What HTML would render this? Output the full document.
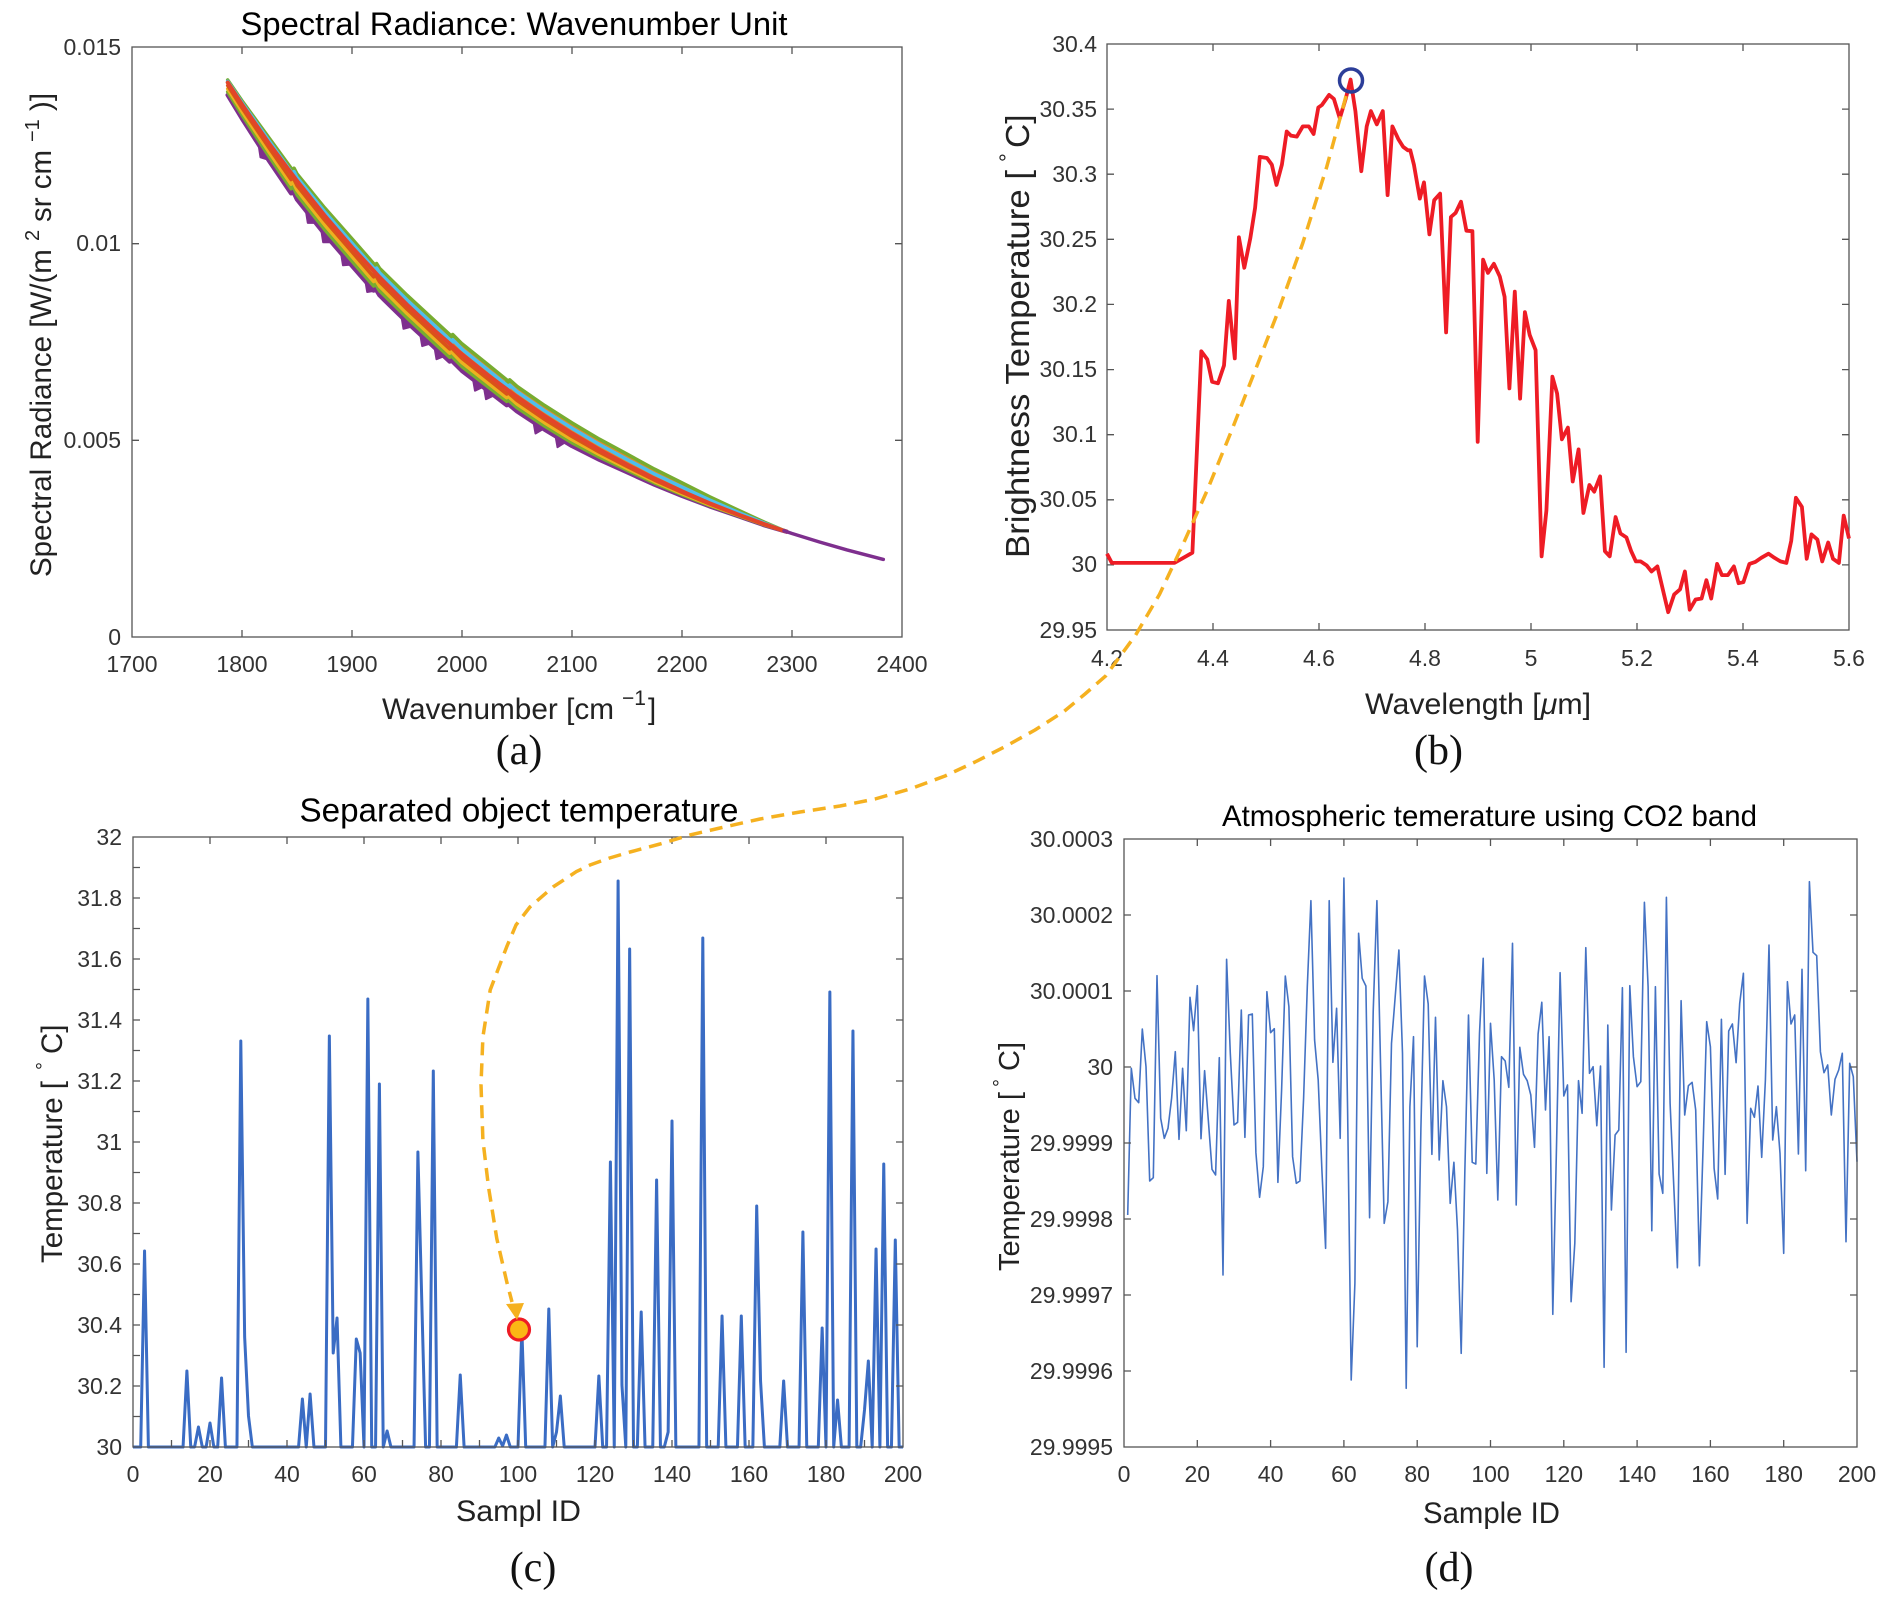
<!DOCTYPE html>
<html><head><meta charset="utf-8"><style>
html,body{margin:0;padding:0;background:#fff;}
svg{display:block;}
text{font-family:"Liberation Sans",Arial,sans-serif;}
.tk{font-size:23px;fill:#333;}
.lb{fill:#222;}
.sr{font-family:"Liberation Serif","Times New Roman",serif;font-size:42px;fill:#111;}
.ax{fill:none;stroke:#555;stroke-width:1.3;}
.tc{stroke:#555;stroke-width:1.3;}
</style></head><body>
<svg width="1886" height="1605" viewBox="0 0 1886 1605" xmlns="http://www.w3.org/2000/svg">
<rect width="1886" height="1605" fill="#fff"/>

<!-- ================= (a) ================= -->
<text x="514" y="35" font-size="32.5" text-anchor="middle" textLength="547" lengthAdjust="spacingAndGlyphs" fill="#000">Spectral Radiance: Wavenumber Unit</text>
<g>
<polygon fill="#E08A2E" points="227.7,80 242,100.8 269.5,138.5 291.1,168.2 292.6,175 294.1,168.2 297,173.9 324.5,207.7 352,238.8 373.6,263.5 375.1,272.4 376.6,263.5 379.5,268.2 407,295.2 434.5,320.5 449.7,334.5 451.2,345 452.7,334.5 462,343.8 489.5,365.9 506.7,379.8 508.2,390.3 509.7,379.8 517,386.3 544.5,405.4 572,422.9 599.5,439.2 627,454.1 654.5,469.1 682,482.8 709.5,496.7 737,509.6 764.5,522.2 786.5,531.6 764.5,525.2 737,515.6 709.5,506.2 682,495.8 654.5,484.6 627,472.1 599.5,459.7 572,445.9 544.5,429.4 517,411.3 509.7,405.1 508.2,390.3 506.7,405.1 489.5,391.9 462,370.8 452.7,361.5 451.2,345 449.7,361.5 434.5,347.5 407,322.2 379.5,295.2 376.6,290.5 375.1,272.4 373.6,290.5 352,265.8 324.5,233.9 297,199.4 294.1,193.3 292.6,175 291.1,193.3 269.5,161.4 242,118.5 227.7,95"/>
<g fill="none" stroke-linejoin="round" stroke-linecap="round">
<polyline stroke="#7E2F8E" stroke-width="4.5" points="227.7,95 242,118.5 269.5,161.4 291.1,193.3 292.6,175 294.1,193.3 297,199.4 324.5,233.9 352,265.8 373.6,290.5 375.1,272.4 376.6,290.5 379.5,295.2 407,322.2 434.5,347.5 449.7,361.5 451.2,345 452.7,361.5 462,370.8 489.5,391.9 506.7,405.1 508.2,390.3 509.7,405.1 517,411.3 544.5,429.4 572,445.9 599.5,459.7 627,472.1 654.5,484.6 682,495.8 709.5,506.2 737,515.6 764.5,525.2 786.5,531.6"/>
<path fill="#7E2F8E" stroke="#7E2F8E" stroke-width="2" d="M258.5,144.2 L260.5,157.3 L268.5,159.8 Z M305.8,210.4 L307.8,222.9 L315.8,222.9 Z M321.2,229.8 L323.2,242.3 L331.2,242.3 Z M341,253 L343,265.3 L351,264.6 Z M365.2,279.9 L367.2,292 L375.2,290.6 Z M401.5,316.8 L403.5,328.8 L411.5,326.6 Z M420.2,334.3 L422.2,346.1 L430.2,343.5 Z M434.5,347.5 L436.5,359.2 L444.5,356 Z M473,379.2 L475,390.7 L483,386.9 Z M484,387.7 L486,399.2 L494,395.4 Z M533.5,422.2 L535.5,433.5 L543.5,428.8 Z M555.5,436 L557.5,447.2 L565.5,442 Z"/>
<polyline stroke="#77AC30" stroke-width="3.5" points="227.7,91.9 242,115 269.5,157.1 291.1,188.8 292.6,175 294.1,188.8 297,194.8 324.5,229.3 352,261.2 373.6,286 375.1,272.4 376.6,286 379.5,290.7 407,317.8 434.5,343.3 449.7,357.3 451.2,345 452.7,357.3 462,366.7 489.5,388 506.7,401.4 508.2,390.3 509.7,401.4 517,407.7 544.5,426 572,442.8 599.5,457.2 627,470.2 654.5,483.1 682,494.7 709.5,505.5 737,515.2 764.5,524.9 786.5,531.6"/>
<polyline stroke="#EDB120" stroke-width="3.5" points="227.7,88.8 242,111.5 269.5,152.8 291.1,184.2 292.6,175 294.1,184.2 297,190.2 324.5,224.7 352,256.6 373.6,281.5 375.1,272.4 376.6,281.5 379.5,286.2 407,313.5 434.5,339 449.7,353.2 451.2,345 452.7,353.2 462,362.6 489.5,384.2 506.7,397.7 508.2,390.3 509.7,397.7 517,404.1 544.5,422.7 572,439.7 599.5,454.7 627,468.4 654.5,481.6 682,493.6 709.5,504.7 737,514.9 764.5,524.7 786.5,531.6"/>
<polyline stroke="#D95319" stroke-width="3.5" points="227.7,85.6 242,107.9 269.5,148.5 291.1,179.6 292.6,175 294.1,179.6 297,185.5 324.5,220 352,251.9 373.6,276.9 375.1,272.4 376.6,276.9 379.5,281.7 407,309.1 434.5,334.8 449.7,349 451.2,345 452.7,349 462,358.4 489.5,380.3 506.7,394 508.2,390.3 509.7,394 517,400.4 544.5,419.3 572,436.5 599.5,452.2 627,466.5 654.5,480.1 682,492.4 709.5,503.9 737,514.5 764.5,524.5 786.5,531.6"/>
<polyline stroke="#77AC30" stroke-width="3.5" points="227.7,80 242,100.8 269.5,138.5 291.1,168.2 292.6,175 294.1,168.2 297,173.9 324.5,207.7 352,238.8 373.6,263.5 375.1,272.4 376.6,263.5 379.5,268.2 407,295.2 434.5,320.5 449.7,334.5 451.2,345 452.7,334.5 462,343.8 489.5,365.9 506.7,379.8 508.2,390.3 509.7,379.8 517,386.3 544.5,405.4 572,422.9 599.5,439.2 627,454.1 654.5,469.1 682,482.8 709.5,496.7 737,509.6 764.5,522.2 786.5,531.6"/>
<polyline stroke="#4DBEEE" stroke-width="3.5" points="227.7,81.3 242,102.6 269.5,141.4 291.1,171.6 292.6,175 294.1,171.6 297,177.4 324.5,211.6 352,243.1 373.6,268 375.1,272.4 376.6,268 379.5,272.7 407,300 434.5,325.5 449.7,339.7 451.2,345 452.7,339.7 462,349.1 489.5,371.2 506.7,385.1 508.2,390.3 509.7,385.1 517,391.6 544.5,410.7 572,428.2 599.5,444.5 627,459.4 654.5,473.9 682,487.1 709.5,500 737,511.9 764.5,523.2 786.5,531.6"/>
<polyline stroke="#E2452A" stroke-width="4" points="227.7,82.5 242,104.4 269.5,144.2 292.6,175 297,180.9 324.5,215.4 352,247.3 375.1,272.4 379.5,277.2 407,304.7 434.5,330.5 451.2,345 462,354.3 489.5,376.4 508.2,390.3 517,396.8 544.5,415.9 572,433.4 599.5,449.7 627,464.6 654.5,478.6 682,491.3 709.5,503.2 737,514.1 764.5,524.2 786.5,531.6"/>
<polyline stroke="#7E2F8E" stroke-width="3.5" points="784,530.8 792,533.5 819.5,542 847,549.9 883.3,559.4"/>
</g>
</g>
<rect class="ax" x="132" y="47" width="770" height="590"/>
<g class="tc">
<path d="M242,637v-7M352,637v-7M462,637v-7M572,637v-7M682,637v-7M792,637v-7M242,47v7M352,47v7M462,47v7M572,47v7M682,47v7M792,47v7M132,440.3h7M132,243.7h7M902,440.3h-7M902,243.7h-7"/>
</g>
<g class="tk" text-anchor="middle">
<text x="132" y="672">1700</text><text x="242" y="672">1800</text><text x="352" y="672">1900</text><text x="462" y="672">2000</text><text x="572" y="672">2100</text><text x="682" y="672">2200</text><text x="792" y="672">2300</text><text x="902" y="672">2400</text>
</g>
<g class="tk" text-anchor="end">
<text x="121" y="645">0</text><text x="121" y="448">0.005</text><text x="121" y="251">0.01</text><text x="121" y="55">0.015</text>
</g>
<g class="lb" font-size="29.6">
<text x="382" y="719" textLength="232" lengthAdjust="spacingAndGlyphs">Wavenumber [cm</text>
<text x="622" y="705" font-size="21">−1</text>
<text x="648" y="719">]</text>
</g>
<g class="lb" transform="translate(51,577) rotate(-90)" font-size="29.5">
<text x="0" y="0">Spectral Radiance [W/(m</text>
<text x="336" y="-12" font-size="20">2</text>
<text x="355" y="0">sr cm</text>
<text x="435" y="-12" font-size="20">−1</text>
<text x="466" y="0">)]</text>
</g>
<text class="sr" x="519" y="764" text-anchor="middle">(a)</text>

<!-- ================= (b) ================= -->
<rect class="ax" x="1107" y="44" width="742" height="586"/>
<g class="tc">
<path d="M1213,630v-7M1319,630v-7M1425,630v-7M1531,630v-7M1637,630v-7M1743,630v-7M1213,44v7M1319,44v7M1425,44v7M1531,44v7M1637,44v7M1743,44v7M1107,109.1h7M1107,174.2h7M1107,239.3h7M1107,304.4h7M1107,369.6h7M1107,434.7h7M1107,499.8h7M1107,564.9h7M1849,109.1h-7M1849,174.2h-7M1849,239.3h-7M1849,304.4h-7M1849,369.6h-7M1849,434.7h-7M1849,499.8h-7M1849,564.9h-7"/>
</g>
<g class="tk" text-anchor="middle">
<text x="1107" y="666">4.2</text><text x="1213" y="666">4.4</text><text x="1319" y="666">4.6</text><text x="1425" y="666">4.8</text><text x="1531" y="666">5</text><text x="1637" y="666">5.2</text><text x="1743" y="666">5.4</text><text x="1849" y="666">5.6</text>
</g>
<g class="tk" text-anchor="end">
<text x="1097" y="52">30.4</text><text x="1097" y="117">30.35</text><text x="1097" y="182">30.3</text><text x="1097" y="247">30.25</text><text x="1097" y="312">30.2</text><text x="1097" y="377">30.15</text><text x="1097" y="442">30.1</text><text x="1097" y="507">30.05</text><text x="1097" y="572">30</text><text x="1097" y="638">29.95</text>
</g>
<polyline fill="none" stroke="#EE1C25" stroke-width="3.8" stroke-linejoin="round" points="1107,553.7 1111.8,562.9 1174.5,562.9 1192.4,552.7 1201.3,351.3 1207.3,359.4 1212.1,381.8 1218,383.3 1224,365.5 1228.8,300.9 1234.8,358.4 1238.9,237.3 1244.3,267.8 1250.3,238.3 1255.1,207.8 1259.8,156.9 1267,158 1271.8,164.6 1276.5,184.9 1281.9,164.6 1286.7,131.5 1290.9,135.6 1296.8,136.6 1302.8,126.4 1308.8,126.4 1313.6,134 1318.3,107.6 1321.9,105 1329.1,94.9 1333.9,98.9 1339.8,118.3 1345.8,98.4 1350.6,79.6 1355.4,111.1 1361.3,171.2 1366.7,126.4 1370.9,111.1 1376.8,124.4 1382.8,111.1 1387.6,195.1 1392.4,126.4 1398.3,139.1 1403.1,146.8 1407.9,150.3 1410.3,150.3 1413.9,164.6 1419.8,198.6 1424,182.4 1429.4,234.3 1434.2,200.2 1440.1,193.6 1446.1,332.4 1450.9,217 1455.6,212.9 1461,201.7 1466.4,230.7 1472.4,231.2 1477.7,441.8 1483.1,259.7 1487.9,272.9 1493.9,263.8 1499.8,276.5 1504.6,296.8 1509.4,388.4 1514.8,291.7 1520.1,398.6 1524.9,312.1 1529.7,335 1535.6,350.2 1541.6,556.3 1546.4,510.5 1552.4,376.7 1557.1,393.5 1561.9,439.3 1567.9,427.6 1572.7,481.5 1578.6,449.4 1583.4,513 1589.4,485 1594.2,491.7 1600.1,476.4 1604.9,551.2 1609.7,556.3 1615.6,517.1 1620.4,533.4 1626.4,537.4 1631.2,551.2 1635.9,561.4 1640.7,561.4 1646.7,565.4 1651.5,571.5 1657.4,566.4 1663.4,591.9 1668.2,612.2 1674.2,594.4 1680.1,589.3 1684.9,571.5 1689.7,609.7 1695.6,599.5 1701.6,598.5 1706.4,580.2 1711.2,598.5 1717.1,563.9 1721.9,575.1 1727.9,575.1 1733.9,566.4 1738.6,583.2 1743.4,582.2 1749.4,563.9 1755.3,561.9 1761.3,557.8 1768.5,553.7 1774.4,557.8 1780.4,561.4 1786.4,562.9 1791.2,541 1795.9,497.8 1801.9,506.9 1806.7,558.8 1811.5,534.4 1817.4,539.5 1822.2,561.4 1828.2,542.5 1833,558.8 1838.9,562.9 1843.7,515.6 1849,538.5"/>
<circle cx="1351" cy="80.5" r="11.5" fill="none" stroke="#2C3E99" stroke-width="3.5"/>
<text class="lb" x="1365" y="714" font-size="29.6" textLength="226" lengthAdjust="spacingAndGlyphs">Wavelength [<tspan font-style="italic">μ</tspan>m]</text>
<g class="lb" transform="translate(1029,558) rotate(-90)" font-size="33.5">
<text x="0" y="0" textLength="388" lengthAdjust="spacingAndGlyphs">Brightness Temperature [</text>
<text x="396" y="-14" font-size="22">°</text>
<text x="410" y="0">C]</text>
</g>
<text class="sr" x="1438.5" y="764" text-anchor="middle">(b)</text>

<!-- ================= (c) ================= -->
<text x="519" y="821.5" font-size="33" text-anchor="middle" textLength="439" lengthAdjust="spacingAndGlyphs" fill="#000">Separated object temperature</text>
<polyline fill="none" stroke="#3A6CC4" stroke-width="3" stroke-linejoin="round" points="133,1447 140.7,1447 144.55,1251 148.4,1447 183.05,1447 186.9,1371 190.75,1447 194.6,1447 198.45,1427 202.3,1447 206.15,1447 210,1423 213.85,1447 217.7,1447 221.55,1378 225.4,1447 236.95,1447 240.8,1041 244.65,1337 248.5,1416 252.35,1447 298.55,1447 302.4,1399 306.25,1447 310.1,1394 313.95,1447 325.5,1447 329.35,1036 333.2,1353 337.05,1318 340.9,1447 352.45,1447 356.3,1339 360.15,1353 364,1447 367.85,999 371.7,1447 375.55,1447 379.4,1084 383.25,1447 387.1,1431 390.95,1447 414.05,1447 417.9,1152 421.75,1300 425.6,1447 429.45,1447 433.3,1071 437.15,1447 456.4,1447 460.25,1375 464.1,1447 494.9,1447 498.75,1438 502.6,1446 506.45,1435 510.3,1447 518,1447 521.85,1329 525.7,1447 544.95,1447 548.8,1309 552.65,1447 556.5,1432 560.35,1396 564.2,1447 595,1447 598.85,1376 602.7,1447 606.55,1447 610.4,1162 614.25,1447 618.1,881 621.95,1385 625.8,1447 629.65,949 633.5,1447 637.35,1447 641.2,1312 645.05,1447 652.75,1447 656.6,1180 660.45,1447 664.3,1447 668.15,1432 672,1121 675.85,1447 698.95,1447 702.8,938 706.65,1447 718.2,1447 722.05,1316 725.9,1447 737.45,1447 741.3,1316 745.15,1447 752.85,1447 756.7,1206 760.55,1381 764.4,1447 779.8,1447 783.65,1381 787.5,1447 799.05,1447 802.9,1232 806.75,1447 818.3,1447 822.15,1328 826,1447 829.85,992 833.7,1447 837.55,1400 841.4,1447 849.1,1447 852.95,1031 856.8,1447 860.65,1447 864.5,1410 868.35,1361 872.2,1447 876.05,1249 879.9,1447 883.75,1164 887.6,1447 891.45,1447 895.3,1240 899.15,1447 903,1447"/>
<rect class="ax" x="133" y="837" width="770" height="610"/>
<g class="tc">
<path d="M171.5,1447v-7M210,1447v-7M248.5,1447v-7M287,1447v-7M325.5,1447v-7M364,1447v-7M402.5,1447v-7M441,1447v-7M479.5,1447v-7M518,1447v-7M556.5,1447v-7M595,1447v-7M633.5,1447v-7M672,1447v-7M710.5,1447v-7M749,1447v-7M787.5,1447v-7M826,1447v-7M864.5,1447v-7"/>
<path d="M210,837v7M287,837v7M364,837v7M441,837v7M518,837v7M595,837v7M672,837v7M749,837v7M826,837v7"/>
<path d="M133,1416.5h7M133,1386h7M133,1355.5h7M133,1325h7M133,1294.5h7M133,1264h7M133,1233.5h7M133,1203h7M133,1172.5h7M133,1142h7M133,1111.5h7M133,1081h7M133,1050.5h7M133,1020h7M133,989.5h7M133,959h7M133,928.5h7M133,898h7M133,867.5h7"/>
<path d="M903,1386h-7M903,1325h-7M903,1264h-7M903,1203h-7M903,1142h-7M903,1081h-7M903,1020h-7M903,959h-7M903,898h-7"/>
</g>
<g class="tk" text-anchor="middle">
<text x="133" y="1482">0</text><text x="210" y="1482">20</text><text x="287" y="1482">40</text><text x="364" y="1482">60</text><text x="441" y="1482">80</text><text x="518" y="1482">100</text><text x="595" y="1482">120</text><text x="672" y="1482">140</text><text x="749" y="1482">160</text><text x="826" y="1482">180</text><text x="903" y="1482">200</text>
</g>
<g class="tk" text-anchor="end">
<text x="122" y="1455">30</text><text x="122" y="1394">30.2</text><text x="122" y="1333">30.4</text><text x="122" y="1272">30.6</text><text x="122" y="1211">30.8</text><text x="122" y="1150">31</text><text x="122" y="1089">31.2</text><text x="122" y="1028">31.4</text><text x="122" y="967">31.6</text><text x="122" y="906">31.8</text><text x="122" y="845">32</text>
</g>
<text class="lb" x="456" y="1521" font-size="30" textLength="125" lengthAdjust="spacingAndGlyphs">Sampl ID</text>
<g class="lb" transform="translate(62,1263) rotate(-90)" font-size="29.5">
<text x="0" y="0">Temperature [</text>
<text x="193" y="-12" font-size="20">°</text>
<text x="209" y="0">C]</text>
</g>
<text class="sr" x="533" y="1581" text-anchor="middle">(c)</text>

<!-- ================= (d) ================= -->
<text x="1489.5" y="826" font-size="29.4" text-anchor="middle" textLength="535" lengthAdjust="spacingAndGlyphs" fill="#000">Atmospheric temerature using CO2 band</text>
<polyline fill="none" stroke="#4472C4" stroke-width="1.6" stroke-linejoin="round" points="1127.7,1215 1131.3,1068.3 1135,1098.3 1138.7,1102.7 1142.3,1029 1146,1066.7 1149.7,1181 1153.3,1177.7 1157,975.7 1160.7,1118.3 1164.3,1138.3 1168,1128.3 1171.6,1098.3 1175.3,1051.7 1179,1139.3 1182.6,1068.3 1186.3,1130.7 1190,997.3 1193.6,1030.7 1197.3,985.7 1201,1138.7 1204.6,1070.7 1208.3,1120 1212,1169.3 1215.6,1175 1219.3,1057.7 1223,1275 1226.6,959.3 1230.3,1053.3 1234,1125 1237.6,1122.3 1241.3,1010 1244.9,1137.3 1248.6,1015 1252.3,1014 1255.9,1152.7 1259.6,1197.3 1263.3,1166.7 1266.9,991.7 1270.6,1032.7 1274.3,1028.7 1277.9,1182.3 1281.6,1090 1285.3,976 1288.9,1006.7 1292.6,1156.7 1296.3,1183.3 1299.9,1181 1303.6,1098.3 1307.3,986.7 1310.9,900.7 1314.6,1040 1318.2,1080 1321.9,1170 1325.6,1248.3 1329.2,900.7 1332.9,1062.3 1336.6,1008.3 1340.2,1138.3 1343.9,878 1347.6,1110 1351.2,1380 1354.9,1283.3 1358.6,933.3 1362.2,978.3 1365.9,986 1369.6,1217.7 1373.2,1011.7 1376.9,900.7 1380.6,1066.7 1384.2,1223.3 1387.9,1201.7 1391.5,1043.3 1395.2,996.7 1398.9,950 1402.5,1053.3 1406.2,1388.3 1409.9,1106.7 1413.5,1036.7 1417.2,1346.7 1420.9,1128.3 1424.5,976 1428.2,1004 1431.9,1154.3 1435.5,1017.3 1439.2,1160 1442.9,1080.7 1446.5,1106.7 1450.2,1203.3 1453.9,1162.3 1457.5,1230 1461.2,1353.3 1464.8,1173.3 1468.5,1015 1472.2,1162.3 1475.8,1164 1479.5,1033.3 1483.2,958.3 1486.8,1173.3 1490.5,1023.3 1494.2,1080 1497.8,1200 1501.5,1056.7 1505.2,1061 1508.8,1087.3 1512.5,943.3 1516.2,1205 1519.8,1047.3 1523.5,1074.3 1527.2,1080.7 1530.8,1095 1534.5,1147.3 1538.1,1034 1541.8,1002.3 1545.5,1110 1549.1,1036.7 1552.8,1314.3 1556.5,1146.7 1560.1,972.7 1563.8,1096 1567.5,1085 1571.1,1301.7 1574.8,1243.3 1578.5,1080.7 1582.1,1113.3 1585.8,947.7 1589.5,1073.3 1593.1,1066.7 1596.8,1125.7 1600.5,1066 1604.1,1367.3 1607.8,1025 1611.4,1210 1615.1,1135 1618.8,1130 1622.4,987.7 1626.1,1352.3 1629.8,985.7 1633.4,1056.7 1637.1,1086.7 1640.8,1081.7 1644.4,902.3 1648.1,986.7 1651.8,1230.7 1655.4,986.7 1659.1,1174 1662.8,1193.3 1666.4,897.3 1670.1,1103.3 1673.8,1186.7 1677.4,1267.7 1681.1,1000.7 1684.7,1115 1688.4,1085.7 1692.1,1082.3 1695.7,1110 1699.4,1265.7 1703.1,1146.7 1706.7,1021.7 1710.4,1046.7 1714.1,1168.3 1717.7,1199 1721.4,1019.3 1725.1,1174.3 1728.7,1031 1732.4,1024 1736.1,1062.7 1739.7,1003.3 1743.4,973.3 1747.1,1223.3 1750.7,1108.3 1754.4,1117.3 1758,1086 1761.7,1157.3 1765.4,1080 1769,945 1772.7,1140 1776.4,1106.7 1780,1153.3 1783.7,1253.3 1787.4,981.7 1791,1024 1794.7,1015 1798.4,1154 1802,969.3 1805.7,1170.7 1809.4,881.7 1813,952.3 1816.7,955.7 1820.4,1051.7 1824,1072.7 1827.7,1065 1831.3,1115 1835,1079.3 1838.7,1070 1842.3,1053.3 1846,1241.7 1849.7,1063.3 1853.3,1076.7 1857,1161.7"/>
<rect class="ax" x="1124" y="839" width="733" height="608"/>
<g class="tc">
<path d="M1197.3,1447v-7M1270.6,1447v-7M1343.9,1447v-7M1417.2,1447v-7M1490.5,1447v-7M1563.8,1447v-7M1637.1,1447v-7M1710.4,1447v-7M1783.7,1447v-7"/>
<path d="M1197.3,839v7M1270.6,839v7M1343.9,839v7M1417.2,839v7M1490.5,839v7M1563.8,839v7M1637.1,839v7M1710.4,839v7M1783.7,839v7"/>
<path d="M1124,1371h7M1124,1295h7M1124,1219h7M1124,1143h7M1124,1067h7M1124,991h7M1124,915h7M1857,1371h-7M1857,1295h-7M1857,1219h-7M1857,1143h-7M1857,1067h-7M1857,991h-7M1857,915h-7"/>
</g>
<g class="tk" text-anchor="middle">
<text x="1124" y="1482">0</text><text x="1197.3" y="1482">20</text><text x="1270.6" y="1482">40</text><text x="1343.9" y="1482">60</text><text x="1417.2" y="1482">80</text><text x="1490.5" y="1482">100</text><text x="1563.8" y="1482">120</text><text x="1637.1" y="1482">140</text><text x="1710.4" y="1482">160</text><text x="1783.7" y="1482">180</text><text x="1857" y="1482">200</text>
</g>
<g class="tk" text-anchor="end">
<text x="1113" y="1455">29.9995</text><text x="1113" y="1379">29.9996</text><text x="1113" y="1303">29.9997</text><text x="1113" y="1227">29.9998</text><text x="1113" y="1151">29.9999</text><text x="1113" y="1075">30</text><text x="1113" y="999">30.0001</text><text x="1113" y="923">30.0002</text><text x="1113" y="847">30.0003</text>
</g>
<text class="lb" x="1423" y="1523" font-size="29.3" textLength="137" lengthAdjust="spacingAndGlyphs">Sample ID</text>
<g class="lb" transform="translate(1019,1271) rotate(-90)" font-size="29">
<text x="0" y="0">Temperature [</text>
<text x="184" y="-12" font-size="20">°</text>
<text x="200" y="0">C]</text>
</g>
<text class="sr" x="1449" y="1581" text-anchor="middle">(d)</text>

<!-- ================= connector ================= -->
<polyline fill="none" stroke="#F5B120" stroke-width="3.5" stroke-dasharray="13 8" stroke-linejoin="round" points="1346,96 1343.4,106 1326.7,167 1302.8,243 1278.9,309.5 1255.1,370.6 1231.2,431.6 1207.3,490.1 1183.4,543.5 1159.5,594.4 1135.6,635.1 1105.8,675.8 1085,694 1064,711.4 1035,730 1004.3,747 975,762 945,776 910,789 875,799 840,806 800,812 760,819 720,828 690,835 660,844 630,852 609.6,858 590,865 576.4,871.6 553,887 529.9,907 516,925 506.8,946.6 490.2,990 482.9,1037 481,1084.7 482.9,1140 488.5,1187 496.8,1238.6 506.8,1282 512,1302"/>
<circle cx="519" cy="1329.5" r="10.5" fill="#FBB615" stroke="#EE1C25" stroke-width="3.2"/>
<polygon points="506,1304 524,1303 517,1320" fill="#F5B120"/>
</svg>
</body></html>
